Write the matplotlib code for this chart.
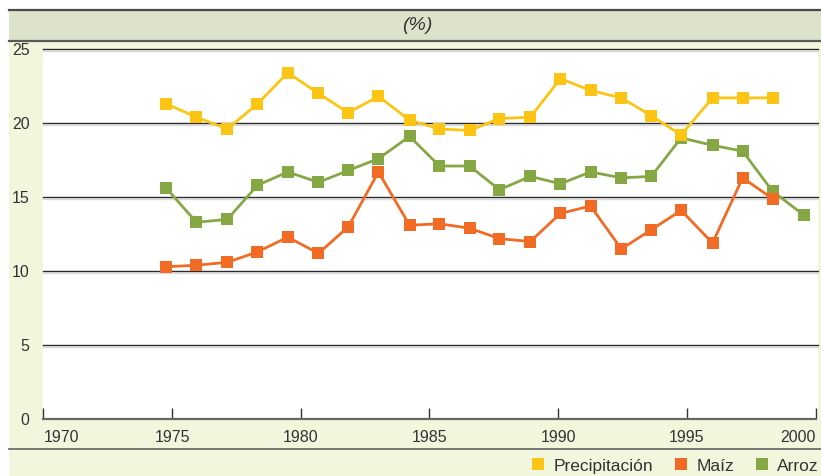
import matplotlib
matplotlib.use("Agg")
import matplotlib.pyplot as plt
from matplotlib.patches import Rectangle
from matplotlib.lines import Line2D
import matplotlib.patheffects as pe

plt.rcParams['font.family'] = ['Liberation Sans', 'DejaVu Sans']

# ---------------- data ----------------
years = [1974.78, 1975.95, 1977.15, 1978.32, 1979.50, 1980.69, 1981.85, 1983.02,
         1984.23, 1985.39, 1986.56, 1987.72, 1988.92, 1990.09, 1991.26, 1992.46,
         1993.62, 1994.78, 1996.00, 1997.17, 1998.33, 1999.54]
precipitacion = [21.3, 20.4, 19.6, 21.3, 23.4, 22.0, 20.7, 21.8, 20.2, 19.6, 19.5,
                 20.3, 20.4, 23.0, 22.2, 21.7, 20.5, 19.2, 21.7, 21.7, 21.7]
maiz = [10.3, 10.4, 10.6, 11.3, 12.3, 11.2, 13.0, 16.7, 13.1, 13.2, 12.9,
        12.2, 12.0, 13.9, 14.4, 11.5, 12.8, 14.1, 11.9, 16.3, 14.9]
arroz = [15.6, 13.3, 13.5, 15.8, 16.7, 16.0, 16.8, 17.6, 19.1, 17.1, 17.1,
         15.5, 16.4, 15.9, 16.7, 16.3, 16.4, 19.0, 18.5, 18.1, 15.4, 13.8]
series_names = ['Precipitación', 'Maíz', 'Arroz']
xticks = [1970, 1975, 1980, 1985, 1990, 1995, 2000]
yticks = [0, 5, 10, 15, 20, 25]
header = '(%)'

# ---------------- style ----------------
W, H = 821, 476
C_PREC = '#FDC513'
C_MAIZ = '#F26B24'
C_ARROZ = '#86A844'
CREAM = '#F2F6DC'
HEADER = '#DCE3CA'
TXT = '#333333'

fig = plt.figure(figsize=(W / 100, H / 100), dpi=100, facecolor='white')

def fx(px):
    return px / W

def fy(py):
    return 1 - py / H

# background panels
fig.patches.append(Rectangle((fx(9), 0), fx(W - 9), fy(41), transform=fig.transFigure,
                             facecolor=CREAM, edgecolor='none', zorder=-3))
fig.patches.append(Rectangle((fx(9), fy(41)), fx(W - 9), (41 - 10) / H, transform=fig.transFigure,
                             facecolor=HEADER, edgecolor='none', zorder=-3))
fig.patches.append(Rectangle((fx(43), fy(419)), fx(818 - 43), (419 - 49) / H, transform=fig.transFigure,
                             facecolor='white', edgecolor='none', zorder=-2))
for yy, col, lw in [(10, '#4a4a4a', 1.6), (41, '#5a5a5a', 1.6), (449, '#6e6e6e', 1.3)]:
    fig.lines.append(Line2D([fx(9), 1], [fy(yy), fy(yy)], transform=fig.transFigure,
                            color=col, lw=lw, zorder=-1))

fig.text(fx(417), fy(26), header, ha='center', va='center', fontsize=14,
         style='italic', color=TXT)

ax = fig.add_axes([fx(43.3), fy(419.3), fx(815.5 - 43.3), (419.3 - 49) / H])
ax.set_zorder(2)
ax.set_facecolor('none')
ax.set_xlim(1970, 2000)
ax.set_ylim(0, 25)

for s in ['left', 'right', 'top']:
    ax.spines[s].set_visible(False)
ax.spines['bottom'].set_color('#666666')
ax.spines['bottom'].set_linewidth(1.6)

for yv in yticks[1:]:
    ax.plot([1970, 2000.09], [yv, yv], color='#2b2b2b', lw=1.0, zorder=1, clip_on=False,
            path_effects=[pe.SimpleLineShadow(offset=(0, -1.2), shadow_color='#dadada', alpha=1.0),
                          pe.Normal()])

ax.set_xticks(xticks)
ax.set_xticklabels([str(t) for t in xticks])
ax.set_yticks(yticks)
ax.set_yticklabels([str(t) for t in yticks])
ax.tick_params(axis='x', direction='in', length=8, width=1, color='#333333',
               labelsize=11.5, labelcolor=TXT, pad=8)
ax.tick_params(axis='y', length=0, labelsize=11.5, labelcolor=TXT, pad=10)
xlabels = ax.get_xticklabels()
xlabels[0].set_horizontalalignment('left')
xlabels[-1].set_horizontalalignment('right')

ms = 8.0
lw = 2.0
ax.plot(years[:len(arroz)], arroz, color=C_ARROZ, lw=lw, marker='s', ms=ms,
        markeredgewidth=0, zorder=3, clip_on=False)
ax.plot(years[:len(maiz)], maiz, color=C_MAIZ, lw=lw, marker='s', ms=ms,
        markeredgewidth=0, zorder=4, clip_on=False)
ax.plot(years[:len(precipitacion)], precipitacion, color=C_PREC, lw=lw, marker='s', ms=ms,
        markeredgewidth=0, zorder=5, clip_on=False)

handles = [Line2D([], [], ls='none', marker='s', ms=8.5, color=c, markeredgewidth=0)
           for c in (C_PREC, C_MAIZ, C_ARROZ)]
fig.legend(handles, series_names, loc='center right', bbox_to_anchor=(fx(819), fy(466)),
           ncol=3, frameon=False, fontsize=12.5, handlelength=0.8, handletextpad=0.5,
           columnspacing=1.2, labelcolor=TXT, borderaxespad=0, borderpad=0)

fig.savefig('out.png', dpi=100, facecolor=fig.get_facecolor())
